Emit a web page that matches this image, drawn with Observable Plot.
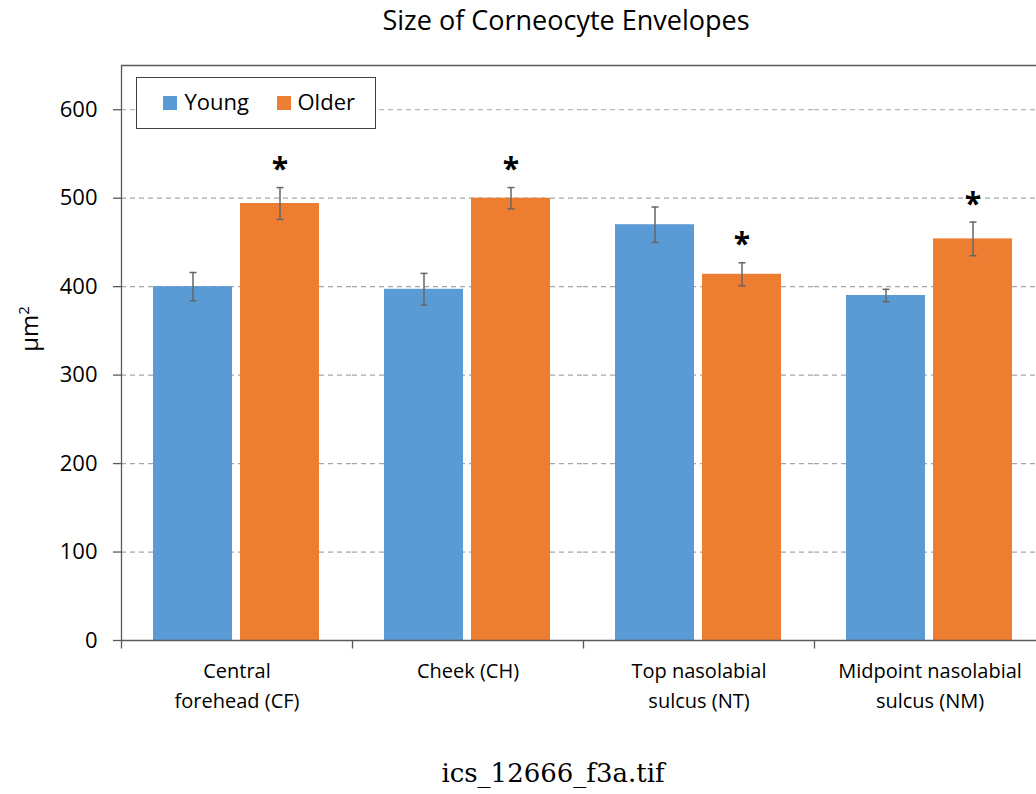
<!DOCTYPE html>
<html><head><meta charset="utf-8">
<script src="https://cdn.jsdelivr.net/npm/d3@7"></script>
<script src="https://cdn.jsdelivr.net/npm/@observablehq/plot@0.6"></script>
<style>
body{margin:0;width:1036px;height:794px;overflow:hidden;position:relative;background:#fff;font-family:"Open Sans",sans-serif;color:#000}
#title{position:absolute;left:566px;top:6px;transform:translateX(-50%);font-size:27px;line-height:27px;white-space:nowrap}
#chart{position:absolute;left:0;top:44px;width:1045px}
#chart svg{max-width:none}
#ylabel{position:absolute;left:29px;top:329px;transform:translate(-50%,-50%) rotate(-90deg);font-size:24px;line-height:24px;white-space:nowrap}
#ylabel sup{font-size:15px;vertical-align:9px;line-height:0}
#legend{position:absolute;left:136px;top:77px;width:238px;height:50px;border:1.5px solid #404040;background:#fff;font-size:22px}
.sw{position:absolute;width:14px;height:14px;top:18px}
.lt{position:absolute;top:10px;line-height:26px}
#caption{position:absolute;left:553px;top:760px;transform:translateX(-50%);font-family:"DejaVu Serif",serif;font-size:26px;line-height:26px;white-space:nowrap}
</style></head>
<body>
<div id="title">Size of Corneocyte Envelopes</div>
<div id="chart"></div>
<div id="ylabel">µm<sup>2</sup></div>
<div id="legend"></div>
<div id="caption">ics_12666_f3a.tif</div>
<script>
const sites = ["Central\nforehead (CF)", "Cheek (CH)", "Top nasolabial\nsulcus (NT)", "Midpoint nasolabial\nsulcus (NM)"];
const groups = ["Young", "Older"];
const colors = ["#5b9bd5", "#ed7d31"];
const youngMean = [400, 397, 470, 390];
const youngErr = [16, 18, 20, 7];
const olderMean = [494, 500, 414, 454];
const olderErr = [18, 12, 13, 19];
const olderSig = [true, true, true, true];
const yTicks = [0, 100, 200, 300, 400, 500, 600];

const rows = sites.flatMap((s, i) => [
  {site: s, group: "Young", mean: youngMean[i], err: youngErr[i], sig: false},
  {site: s, group: "Older", mean: olderMean[i], err: olderErr[i], sig: olderSig[i]}
]);

const W = 1045, H = 700, mT = 21, mB = 104, mL = 121;
const frameH = H - mT - mB;
const vtick = {draw(ctx) { ctx.moveTo(0, 0); ctx.lineTo(0, 8); }};
const vline = {draw(ctx) { ctx.moveTo(0, 0); ctx.lineTo(0, frameH); }};
const cap = {draw(ctx) { ctx.moveTo(-3.5, 0); ctx.lineTo(3.5, 0); }};
const axisColor = "#595959";

const chart = Plot.plot({
  width: W,
  height: H,
  marginLeft: mL,
  marginRight: 0,
  marginTop: mT,
  marginBottom: mB,
  style: {fontFamily: "Open Sans", color: "#000", background: "transparent", overflow: "visible", maxWidth: "none"},
  fx: {domain: sites, padding: 0},
  x: {domain: groups, paddingInner: 0.09, paddingOuter: 0.365, axis: null},
  y: {domain: [0, 650]},
  color: {domain: groups, range: colors},
  marks: [
    Plot.ruleY(yTicks.filter(d => d > 0), {stroke: "#a6a6a6", strokeDasharray: "5,4", strokeWidth: 1.2}),
    Plot.ruleY([650], {stroke: axisColor, strokeWidth: 1.3}),
    Plot.barY(rows, {fx: "site", x: "group", y: "mean", fill: "group"}),
    Plot.ruleX(rows, {fx: "site", x: "group", y1: d => d.mean - d.err, y2: d => d.mean + d.err, stroke: "#666", strokeWidth: 1.5}),
    Plot.dot(rows, {fx: "site", x: "group", y: d => d.mean + d.err, symbol: cap, stroke: "#666", fill: "none", strokeWidth: 1.5}),
    Plot.dot(rows, {fx: "site", x: "group", y: d => d.mean - d.err, symbol: cap, stroke: "#666", fill: "none", strokeWidth: 1.5}),
    Plot.text(rows.filter(d => d.sig), {fx: "site", x: "group", y: d => d.mean + d.err, text: d => "*", dy: -18, fontSize: 30, fontWeight: "bold", fill: "#000"}),
    Plot.ruleY([0], {stroke: axisColor, strokeWidth: 1.3}),
    Plot.dot(sites, {fx: d => d, frameAnchor: "bottom-left", symbol: vtick, stroke: axisColor, fill: "none", strokeWidth: 1.3}),
    Plot.dot([sites[0]], {fx: d => d, frameAnchor: "top-left", symbol: vline, stroke: axisColor, fill: "none", strokeWidth: 1.3}),
    Plot.axisY({ticks: yTicks, tickSize: 8, tickPadding: 16, fontSize: 22, label: null, stroke: axisColor, fill: "#000", strokeWidth: 1.3}),
    Plot.axisFx({anchor: "bottom", tickSize: 0, tickPadding: 16, fontSize: 20, lineHeight: 1.5, label: null, fill: "#000"})
  ]
});
document.getElementById("chart").appendChild(chart);

const legend = document.getElementById("legend");
const lx = [[25.5, 47.5], [139.5, 160.5]];
groups.forEach((g, i) => {
  const sw = document.createElement("div");
  sw.className = "sw"; sw.style.left = lx[i][0] + "px"; sw.style.background = colors[i];
  const t = document.createElement("div");
  t.className = "lt"; t.style.left = lx[i][1] + "px"; t.textContent = g;
  legend.appendChild(sw); legend.appendChild(t);
});
</script>
</body></html>
